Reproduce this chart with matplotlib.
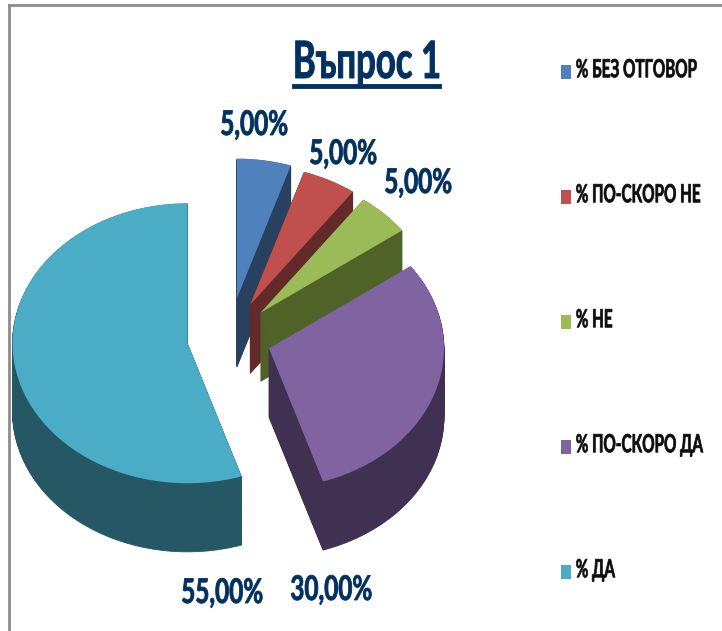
import numpy as np
import matplotlib
matplotlib.use('Agg')
import matplotlib.pyplot as plt
import matplotlib.patheffects as pe
from matplotlib.lines import Line2D
from matplotlib.transforms import Affine2D

# Question 1 survey results, 3D looking exploded pie
labels = ['% БЕЗ ОТГОВОР', '% ПО-СКОРО НЕ', '% НЕ', '% ПО-СКОРО ДА', '% ДА']
values = [5, 5, 5, 30, 55]
value_labels = ['5,00%', '5,00%', '5,00%', '30,00%', '55,00%']
top_colors = ['#4F81BD', '#C0504D', '#9BBB59', '#8064A2', '#4BACC6']
wall_colors = ['#27415F', '#632A2A', '#4F6228', '#403152', '#255764']

plt.rcParams['font.family'] = ['Lato', 'Open Sans', 'DejaVu Sans']
navy = '#03315F'

W, H = 722, 631
fig = plt.figure(figsize=(W / 100, H / 100), dpi=100)
ax = fig.add_axes([0, 0, 1, 1])


# the original text is tall, narrow and heavy: pull the glyphs up from the baseline and thicken them
class Tall(pe.AbstractPathEffect):
    def __init__(self, sy, lw=0.5):
        super().__init__()
        self.sy = sy
        self.lw = lw

    def draw_path(self, renderer, gc, tpath, affine, rgbFace=None):
        gc0 = renderer.new_gc()
        gc0.copy_properties(gc)
        gc0.set_linewidth(self.lw)
        gc0.set_foreground(rgbFace)
        renderer.draw_path(gc0, tpath, Affine2D().scale(1, self.sy) + affine, rgbFace)
        gc0.restore()


# figure pixels (origin top left) to figure fractions
def px(x, y):
    return x / W, 1 - y / H


# side walls: the same pie stacked downwards
depth = 0.49
layers = np.linspace(depth, 0.005, 70)
explode = [0.285, 0.265, 0.255, 0.24, 0.24]
for n, d in enumerate(layers):
    wedges, _ = ax.pie(values, colors=wall_colors, explode=explode, startangle=90,
                       counterclock=False, center=(0, -d), wedgeprops={'linewidth': 0.6})
    for i, w in enumerate(wedges):
        w.set_edgecolor(wall_colors[i])
        w.set_zorder(i * 200 + n)

# top face
top_wedges, _ = ax.pie(values, colors=top_colors, explode=explode, startangle=90,
                       counterclock=False, center=(0, 0), wedgeprops={'linewidth': 0})
for i, w in enumerate(top_wedges):
    w.set_zorder(i * 200 + 100)

# 175 px per unit across, 140 px per unit down, pie centre at (230, 338)
ax.set_aspect('auto')
ax.set_xlim(-229 / 175, (W - 229) / 175)
ax.set_ylim((338 - H) / 140, 338 / 140)
ax.set_axis_off()

# frame, only top and left are visible in the picture
frame_color = '#8C8C8C'
fig.add_artist(Line2D([9 / W, 9 / W], [0, 1 - 5 / H], color=frame_color, lw=2))
fig.add_artist(Line2D([9 / W, 1], [1 - 5 / H, 1 - 5 / H], color=frame_color, lw=2))

# title
x, y = px(367, 78)
fig.text(x, y, 'Въпрос 1', color=navy, fontsize=25, fontweight='bold', ha='center', va='baseline',
         path_effects=[Tall(1.48, 0.7)])
fig.add_artist(Line2D([294 / W, 439 / W], [1 - 86 / H, 1 - 86 / H], color=navy, lw=3.5))

# data labels
label_pos = [(254, 135), (343, 164), (418, 193), (331, 600), (222, 603)]
for txt, (lx, ly) in zip(value_labels, label_pos):
    x, y = px(lx, ly)
    fig.text(x, y, txt, color=navy, fontsize=17.5, fontweight='bold', ha='center', va='baseline',
             path_effects=[Tall(1.4, 0.6)])

# legend
leg = fig.legend(top_wedges, labels, loc='upper left', bbox_to_anchor=px(561, 65),
                 frameon=False, fontsize=11, labelspacing=7.18, handlelength=0.65,
                 handleheight=1.05, handletextpad=0.32, borderpad=0, borderaxespad=0)
for t in leg.get_texts():
    t.set_fontweight('bold')
    t.set_color('#0D0D0D')
    t.set_path_effects([Tall(1.64, 0.5)])

fig.savefig('out.png', dpi=100)
